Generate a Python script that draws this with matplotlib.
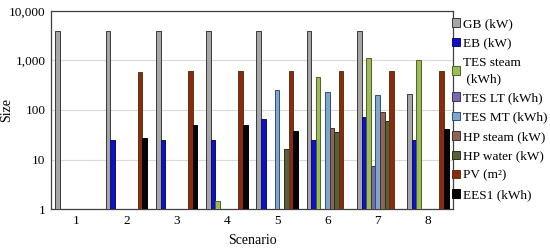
import numpy as np
import matplotlib
matplotlib.use('Agg')
import matplotlib.pyplot as plt
from matplotlib.ticker import FuncFormatter, NullLocator

plt.rcParams['font.family'] = ['Liberation Serif', 'DejaVu Serif']

scenarios = ['1', '2', '3', '4', '5', '6', '7', '8']
series = ['GB (kW)', 'EB (kW)', 'TES steam\n (kWh)', 'TES LT (kWh)', 'TES MT (kWh)',
          'HP steam (kW)', 'HP water (kW)', 'PV (m²)', 'EES1 (kWh)']
nan = np.nan
gb = [4000, 4000, 4000, 4000, 4000, 4000, 4000, 210]
eb = [nan, 25, 25, 25, 66, 25, 73, 25]
tes_steam = [nan, nan, nan, 1.42, nan, 460, 1100, 1020]
tes_lt = [nan, nan, nan, nan, nan, nan, 7.5, nan]
tes_mt = [nan, nan, nan, nan, 257, 234, 200, nan]
hp_steam = [nan, nan, nan, nan, nan, 43, 90, nan]
hp_water = [nan, nan, nan, nan, 16, 36, 61, nan]
pv = [nan, 580, 610, 610, 600, 600, 610, 600]
ees1 = [nan, 27, 50, 50, 37, nan, nan, 42]
values = [gb, eb, tes_steam, tes_lt, tes_mt, hp_steam, hp_water, pv, ees1]

colors = ['#A6A6A6', '#1010C8', '#9BBB59', '#7A6BA6', '#7FA6CC',
          '#8A6658', '#56603A', '#8B2A14', '#050505']
edges = ['#3A3A3A', '#101060', '#4F6228', '#3A3060', '#2F4F6F',
         '#4A3028', '#2A3018', '#5A3A08', '#000000']

fig = plt.figure(figsize=(5.5, 2.5), dpi=100)
ax = fig.add_axes([51/550, 1 - 209/250, 402/550, 198/250])

x = np.arange(len(scenarios))
w = 0.0915
for i, (vals, c, ec) in enumerate(zip(values, colors, edges)):
    ax.bar(x + (i - 4) * w, vals, width=w, color=c, edgecolor=ec, linewidth=0.7,
           label=series[i], zorder=3)

ax.set_yscale('log')
ax.set_ylim(1, 10000)
ax.set_xlim(-0.5, 7.5)
ax.yaxis.set_major_formatter(FuncFormatter(lambda v, p: f'{v:,.0f}'))
ax.yaxis.set_minor_locator(NullLocator())
ax.set_xticks(x)
ax.set_xticklabels(scenarios)
ax.tick_params(length=0, labelsize=9.5, pad=4)
ax.grid(axis='y', color='#D9D9D9', linewidth=0.8, zorder=0)
for s in ax.spines.values():
    s.set_color('#404040')
    s.set_linewidth(0.9)

ax.set_ylabel('Size', fontsize=10)
ax.yaxis.set_label_coords(-0.095, 0.5)
ax.set_xlabel('Scenario', fontsize=10, labelpad=5)

leg = fig.legend(loc='upper left', bbox_to_anchor=(452/550, 1 - 18/250), frameon=False,
                 fontsize=9.5, handlelength=0.6, handleheight=0.6, handletextpad=0.2,
                 labelspacing=0.56, borderpad=0, borderaxespad=0)
for t in leg.get_texts():
    t.set_linespacing(1.45)

fig.savefig('out.png', dpi=100)
